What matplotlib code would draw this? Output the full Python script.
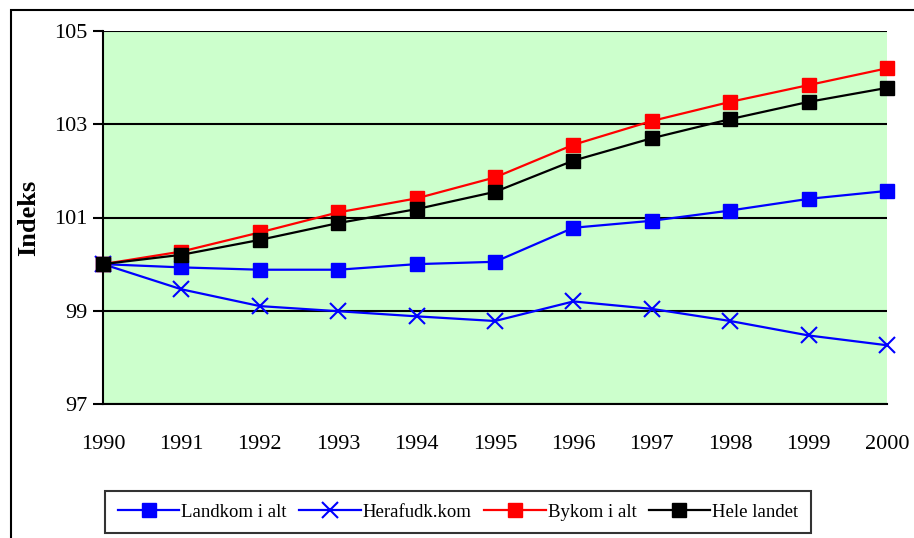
import matplotlib
matplotlib.use("Agg")
import matplotlib.pyplot as plt
from matplotlib.patches import Rectangle

plt.rcParams['font.family'] = ['Liberation Serif', 'DejaVu Serif']

years = [1990, 1991, 1992, 1993, 1994, 1995, 1996, 1997, 1998, 1999, 2000]
landkom = [100.0, 99.93, 99.88, 99.88, 100.0, 100.05, 100.78, 100.93, 101.15, 101.4, 101.57]
herafud = [100.0, 99.46, 99.1, 98.99, 98.88, 98.78, 99.2, 99.04, 98.78, 98.47, 98.26]
bykom = [100.0, 100.27, 100.68, 101.11, 101.41, 101.86, 102.56, 103.07, 103.48, 103.84, 104.2]
hele = [100.0, 100.2, 100.52, 100.88, 101.18, 101.55, 102.22, 102.7, 103.11, 103.48, 103.78]
yticks = [97, 99, 101, 103, 105]

fig = plt.figure(figsize=(9.14, 5.38), dpi=100)
ax = fig.add_axes([103/914, 1-404/538, (887-103)/914, (404-31)/538])
ax.set_facecolor('#CCFFCC')

ax.plot(years, landkom, color='#0000FF', lw=1.6, marker='s', ms=10, label='Landkom i alt', clip_on=False)
ax.plot(years, herafud, color='#0000FF', lw=1.6, marker='x', ms=11, mew=1.5, label='Herafudk.kom', clip_on=False)
ax.plot(years, bykom, color='#FF0000', lw=1.6, marker='s', ms=10, label='Bykom i alt', clip_on=False)
ax.plot(years, hele, color='black', lw=1.6, marker='s', ms=10, label='Hele landet', clip_on=False)

ax.set_xlim(1990, 2000)
ax.set_ylim(97, 105)
ax.set_xticks(years)
ax.set_yticks(yticks)
ax.tick_params(axis='x', length=0, pad=22, labelsize=16)
ax.tick_params(axis='y', length=7, width=1.5, pad=4, labelsize=16)
ax.yaxis.grid(True, color='black', lw=1.5)
ax.set_axisbelow(True)
for s in ['top', 'right']:
    ax.spines[s].set_visible(False)
for s in ['left', 'bottom']:
    ax.spines[s].set_linewidth(1.5)
ax.set_ylabel('Indeks', fontsize=19, fontweight='bold', labelpad=10)

leg = fig.legend(loc='center', bbox_to_anchor=(458/914, 1-512/538), ncol=4,
                 fontsize=13.5, frameon=True, fancybox=False, handlelength=3.3,
                 handletextpad=0.1, columnspacing=0.65, borderpad=0.65,
                 borderaxespad=0)
leg.get_frame().set_edgecolor('black')
leg.get_frame().set_linewidth(1.5)

fig.patches.append(Rectangle((11/914, -0.1), 1.2, 1-10/538+0.1, transform=fig.transFigure,
                             fill=False, edgecolor='black', lw=1.5))

fig.savefig('out.png', dpi=100)
